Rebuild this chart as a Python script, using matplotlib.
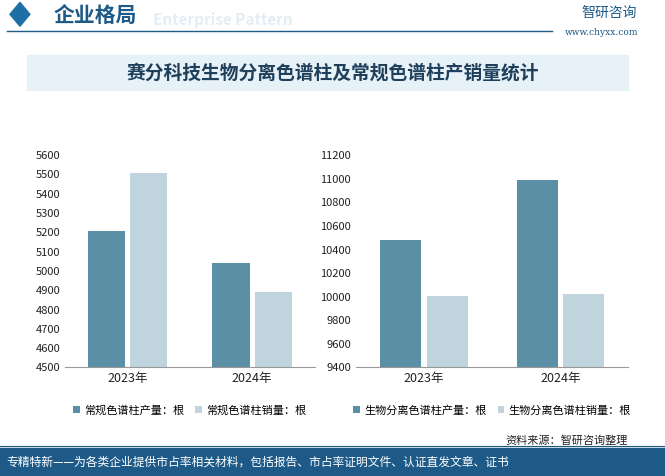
import matplotlib
matplotlib.use("Agg")
import matplotlib.pyplot as plt
from matplotlib.patches import Rectangle, Polygon

plt.rcParams["font.family"] = ["Noto Sans CJK SC", "DejaVu Sans"]

years = ["2023年", "2024年"]
conv_prod = [5205, 5040]
conv_sales = [5510, 4890]
bio_prod = [10480, 10990]
bio_sales = [10010, 10020]

DARK = "#5b8fa6"
LIGHT = "#bfd4dd"
TXT = "#222222"

fig = plt.figure(figsize=(6.65, 4.76), dpi=100)
fig.patch.set_facecolor("white")

# header
fig.add_artist(Polygon([[0.015, 0.97], [0.03, 0.995], [0.045, 0.97], [0.03, 0.945]],
                       closed=True, color="#1d6fa5", transform=fig.transFigure))
fig.text(0.23, 0.958, "Enterprise Pattern", fontsize=11, color="#e3edf4", va="center", weight="bold", zorder=0)
fig.text(0.08, 0.968, "企业格局", fontsize=15, color="#1d5a87", va="center", weight="bold", zorder=2)
fig.add_artist(plt.Line2D([0.01, 0.83], [0.935, 0.935], color="#1d5a87", lw=1, transform=fig.transFigure))
fig.text(0.875, 0.972, "智研咨询", fontsize=10, color="#1d5a87", va="center")
fig.text(0.85, 0.932, "www.chyxx.com", fontsize=6.5, color="#1d5a87", va="center", family="DejaVu Serif")
fig.add_artist(Rectangle((0.04, 0.81), 0.905, 0.075, color="#e6f1f8", transform=fig.transFigure, zorder=0))
fig.text(0.5, 0.847, "赛分科技生物分离色谱柱及常规色谱柱产销量统计", fontsize=13.5, color="#1f3f5a",
         ha="center", va="center", weight="bold")

ax1 = fig.add_axes([0.098, 0.228, 0.375, 0.446])
ax2 = fig.add_axes([0.535, 0.228, 0.41, 0.446])
w = 0.3
x = [0, 1]
for ax, p, s, lo, hi, step, labels in [
    (ax1, conv_prod, conv_sales, 4500, 5600, 100, ("常规色谱柱产量：根", "常规色谱柱销量：根")),
    (ax2, bio_prod, bio_sales, 9400, 11200, 200, ("生物分离色谱柱产量：根", "生物分离色谱柱销量：根")),
]:
    ax.bar([i - w / 2 - 0.02 for i in x], p, w, color=DARK, label=labels[0])
    ax.bar([i + w / 2 + 0.02 for i in x], s, w, color=LIGHT, label=labels[1])
    ax.set_ylim(lo, hi)
    ax.set_yticks(range(lo, hi + 1, step))
    ax.set_xticks(x, years)
    ax.set_xlim(-0.5, 1.5)
    for sp in ["top", "right", "left"]:
        ax.spines[sp].set_visible(False)
    ax.spines["bottom"].set_color("#999999")
    ax.tick_params(axis="y", length=0, labelsize=8, colors=TXT)
    ax.tick_params(axis="x", length=0, labelsize=9, colors=TXT)
    ax.legend(loc="upper center", bbox_to_anchor=(0.5, -0.13), ncol=2, frameon=False,
              fontsize=8, handlelength=0.6, handleheight=0.6, columnspacing=1.0, handletextpad=0.4)

fig.add_artist(plt.Line2D([0, 1], [0.062, 0.062], color="#1d5a87", lw=0.8, transform=fig.transFigure))
fig.text(0.76, 0.075, "资料来源：智研咨询整理", fontsize=8, color=TXT, va="center")
fig.add_artist(Rectangle((0, 0), 1, 0.058, color="#1d5a87", transform=fig.transFigure))
fig.text(0.01, 0.029, "专精特新——为各类企业提供市占率相关材料，包括报告、市占率证明文件、认证直发文章、证书",
         fontsize=8.5, color="white", va="center")

fig.savefig("out.png", dpi=100, facecolor="white")
